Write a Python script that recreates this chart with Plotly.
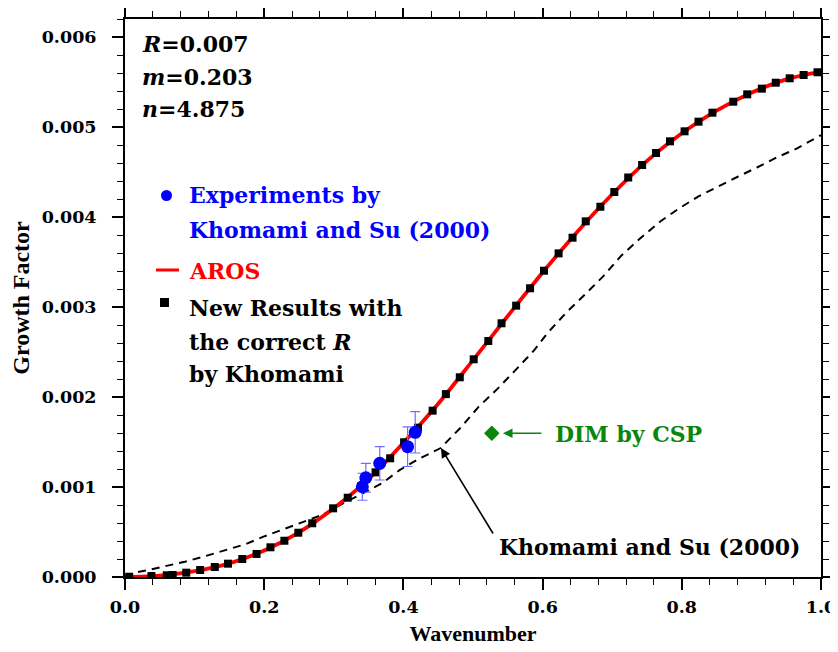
import plotly.graph_objects as go

# ---------------- data ----------------
new_x = [0.006, 0.038, 0.060, 0.0685, 0.088, 0.108, 0.129, 0.148, 0.1685, 0.189,
         0.209, 0.229, 0.249, 0.269, 0.299, 0.320, 0.340, 0.360, 0.381, 0.401,
         0.421, 0.442, 0.461, 0.481, 0.501, 0.522, 0.541, 0.562, 0.582, 0.602,
         0.623, 0.643, 0.662, 0.683, 0.703, 0.723, 0.743, 0.763, 0.783, 0.804,
         0.824, 0.844, 0.874, 0.894, 0.915, 0.935, 0.955, 0.975, 0.995]
new_y = [0.000003, 0.000011, 0.000019, 0.000022, 0.000048, 0.000078, 0.000111, 0.000148, 0.000200, 0.000256,
         0.000330, 0.000403, 0.000492, 0.000597, 0.000763, 0.000881, 0.001011, 0.001163, 0.001319, 0.001497,
         0.001659, 0.001848, 0.002032, 0.002219, 0.002419, 0.002622, 0.002819, 0.003015, 0.003208, 0.003403,
         0.003596, 0.003770, 0.003952, 0.004114, 0.004278, 0.004439, 0.004578, 0.004711, 0.004841, 0.004952,
         0.005059, 0.005159, 0.005281, 0.005363, 0.005426, 0.005492, 0.005541, 0.005578, 0.005608]

aros_x = [0.0, 0.05, 0.10, 0.15, 0.20, 0.25, 0.30, 0.35, 0.40, 0.45, 0.50,
          0.55, 0.60, 0.65, 0.70, 0.75, 0.80, 0.85, 0.90, 0.95, 1.00]
aros_y = [0.0, 0.000015, 0.000065, 0.000152, 0.000295, 0.000497, 0.000765, 0.001087, 0.001490, 0.001925, 0.002410,
          0.002900, 0.003383, 0.003837, 0.004253, 0.004624, 0.004930, 0.005183, 0.005381, 0.005529, 0.005615]

ks_x = [0.0, 0.015, 0.035, 0.060, 0.086, 0.116, 0.145, 0.174, 0.199, 0.228, 0.256, 0.283,
        0.309, 0.342, 0.369, 0.395, 0.424, 0.453, 0.481, 0.508, 0.535, 0.560, 0.588, 0.607,
        0.633, 0.661, 0.687, 0.713, 0.740, 0.769, 0.795, 0.824, 0.852, 0.881, 0.908, 0.936,
        0.965, 0.987, 1.0]
ks_y = [0.0, 0.000050, 0.000080, 0.000120, 0.000170, 0.000233, 0.000300, 0.000367, 0.000448, 0.000530, 0.000614, 0.000689,
        0.000800, 0.000930, 0.001040, 0.001190, 0.001320, 0.001430, 0.001650, 0.001890, 0.002090, 0.002290, 0.002520, 0.002710,
        0.002930, 0.003140, 0.003340, 0.003570, 0.003760, 0.003950, 0.004090, 0.004230, 0.004340, 0.004450, 0.004550, 0.004660,
        0.004760, 0.004860, 0.004910]

exp_x = [0.341, 0.346, 0.366, 0.406, 0.417]
exp_y = [0.001003, 0.001103, 0.001263, 0.001448, 0.001608]
exp_err = [0.000150, 0.000160, 0.000185, 0.000220, 0.000230]

dim_x = [0.527]
dim_y = [0.001597]

x_ticks = [0.0, 0.2, 0.4, 0.6, 0.8, 1.0]
y_ticks = [0.000, 0.001, 0.002, 0.003, 0.004, 0.005, 0.006]

# ---------------- figure ----------------
SERIF = "DejaVu Serif"
BLUE = "#0000ff"
RED = "#ff0000"
GREEN = "#0a870a"

fig = go.Figure()

fig.add_trace(go.Scatter(x=ks_x, y=ks_y, mode="lines", name="Khomami and Su (2000)",
                         line=dict(color="black", width=2, dash="8px,6px")))
fig.add_trace(go.Scatter(x=aros_x, y=aros_y, mode="lines", name="AROS",
                         line=dict(color=RED, width=3.8, shape="spline", smoothing=0.8)))
fig.add_trace(go.Scatter(x=new_x, y=new_y, mode="markers", name="New Results",
                         marker=dict(symbol="square", size=8, color="black")))
fig.add_trace(go.Scatter(x=exp_x, y=exp_y, mode="markers", name="Experiments",
                         marker=dict(symbol="circle", size=13, color=BLUE,
                                     line=dict(color="#3030ff", width=0)),
                         error_y=dict(type="data", array=exp_err, visible=True,
                                      color="#6f6fff", thickness=1.2, width=5)))
fig.add_trace(go.Scatter(x=dim_x, y=dim_y, mode="markers", name="DIM by CSP",
                         marker=dict(symbol="diamond", size=12, color=GREEN)))

axis_common = dict(
    showline=True, linecolor="black", linewidth=2, mirror="allticks",
    ticks="outside", ticklen=11, tickwidth=1.5, tickcolor="black",
    showgrid=False, zeroline=False, automargin=False,
    tickfont=dict(family=SERIF, size=17.5, color="black", weight="bold"),
)

fig.update_xaxes(range=[0, 1], tickvals=x_ticks, tickformat=".1f", ticklabelstandoff=2,
                 minor=dict(dtick=0.04, tick0=0, ticks="outside", ticklen=6, tickwidth=1.3, tickcolor="black", showgrid=False),
                 title=dict(text="Wavenumber", font=dict(family="Liberation Serif", size=22, color="black", weight="bold"),
                            standoff=10),
                 **axis_common)
fig.update_yaxes(range=[0, 0.0062], tickvals=y_ticks, tickformat=".3f", ticklabelstandoff=12,
                 minor=dict(dtick=0.0002, tick0=0, ticks="outside", ticklen=6, tickwidth=1.3, tickcolor="black", showgrid=False),
                 title=dict(text="Growth Factor", font=dict(family="Liberation Serif", size=24, color="black", weight="bold"),
                            standoff=15),
                 **axis_common)

def px(xp):
    return (xp - 125) / 696.0

def py(yp):
    return (577 - yp) / 558.0

ann_font = dict(family=SERIF, size=22, weight="bold")

annotations = []
# parameter block
for txt, yp in [("<i>R</i>=0.007", 44), ("<i>m</i>=0.203", 77), ("<i>n</i>=4.875", 109)]:
    annotations.append(dict(xref="paper", yref="paper", x=px(140), y=py(yp), text=txt, showarrow=False,
                            xanchor="left", yanchor="middle", font=dict(color="black", **ann_font)))
# legend texts
legend_lines = [
    ("Experiments by", 195, BLUE),
    ("Khomami and Su (2000)", 230, BLUE),
    ("AROS", 271, RED),
    ("New Results with", 308, "black"),
    ("the correct <i>R</i>", 342, "black"),
    ("by Khomami", 374, "black"),
]
for txt, yp, col in legend_lines:
    annotations.append(dict(xref="paper", yref="paper", x=px(187), y=py(yp), text=txt, showarrow=False,
                            xanchor="left", yanchor="middle", font=dict(color=col, **ann_font)))

# DIM label and arrow
annotations.append(dict(x=0.543, y=dim_y[0], xref="x", yref="y", text="", showarrow=True,
                        ax=40, ay=0, arrowhead=2, arrowsize=1.2, arrowwidth=1.6, arrowcolor=GREEN))
annotations.append(dict(xref="paper", yref="paper", x=px(553), y=py(434), text="DIM by CSP", showarrow=False,
                        xanchor="left", yanchor="middle", font=dict(color=GREEN, **ann_font)))
# Khomami label and arrow
annotations.append(dict(x=0.454, y=0.001433, xref="x", yref="y", text="", showarrow=True,
                        ax=53, ay=87, arrowhead=2, arrowsize=1.2, arrowwidth=1.6, arrowcolor="black"))
annotations.append(dict(xref="paper", yref="paper", x=px(497), y=py(547), text="Khomami and Su (2000)",
                        showarrow=False, xanchor="left", yanchor="middle", font=dict(color="black", **ann_font)))

shapes = [
    # legend glyphs
    dict(type="circle", xref="paper", yref="paper", x0=px(161), x1=px(172), y0=py(190), y1=py(201),
         fillcolor=BLUE, line=dict(color=BLUE, width=0)),
    dict(type="line", xref="paper", yref="paper", x0=px(156), x1=px(179), y0=py(270), y1=py(270),
         line=dict(color=RED, width=3)),
    dict(type="rect", xref="paper", yref="paper", x0=px(160), x1=px(169), y0=py(298), y1=py(307),
         fillcolor="black", line=dict(color="black", width=0)),
]

# the page adds an 8px body margin, so the figure is 8px smaller than the window
fig.update_layout(
    width=830, height=644,
    margin=dict(l=117, r=17, t=11, b=75, autoexpand=False),
    plot_bgcolor="white", paper_bgcolor="white",
    showlegend=False,
    annotations=annotations,
    shapes=shapes,
)

fig.write_html("out.html")
